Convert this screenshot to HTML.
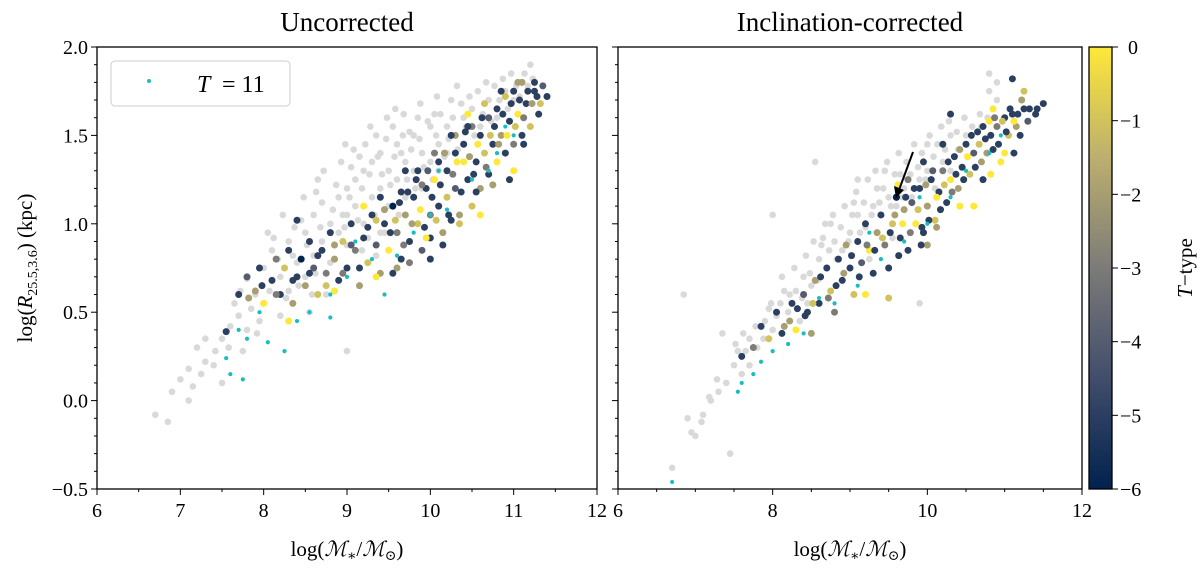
<!DOCTYPE html>
<html><head><meta charset="utf-8"><style>
body{margin:0;background:#fff;}
svg text{font-family:"Liberation Serif","DejaVu Serif",serif;fill:#000;}
</style></head><body>
<svg id="chart" width="1200" height="568" viewBox="0 0 1200 568" xmlns="http://www.w3.org/2000/svg">
<defs>
<linearGradient id="cmap" x1="0" y1="1" x2="0" y2="0">
<stop offset="0" stop-color="#00224e"/><stop offset="0.25" stop-color="#414d6b"/><stop offset="0.5" stop-color="#7c7b78"/><stop offset="0.75" stop-color="#bcaf6f"/><stop offset="1" stop-color="#fee838"/>
</linearGradient>
</defs>
<g id="plots"></g>
<text x="347" y="31" font-size="27" text-anchor="middle">Uncorrected</text>
<text x="850" y="31" font-size="27" text-anchor="middle">Inclination-corrected</text>
<text x="347" y="556" font-size="21" text-anchor="middle">log(<tspan font-style="italic">ℳ</tspan><tspan font-size="14" dy="4">∗</tspan><tspan dy="-4">/</tspan><tspan font-style="italic">ℳ</tspan><tspan font-size="14" dy="4">⊙</tspan><tspan dy="-4">)</tspan></text>
<text x="850" y="556" font-size="21" text-anchor="middle">log(<tspan font-style="italic">ℳ</tspan><tspan font-size="14" dy="4">∗</tspan><tspan dy="-4">/</tspan><tspan font-style="italic">ℳ</tspan><tspan font-size="14" dy="4">⊙</tspan><tspan dy="-4">)</tspan></text>
<text transform="translate(32,268) rotate(-90)" font-size="21" text-anchor="middle">log(<tspan font-style="italic">R</tspan><tspan font-size="14" dy="5">25.5,3.6</tspan><tspan dy="-5">) (kpc)</tspan></text>
<text transform="translate(1192,268) rotate(-90)" font-size="21" text-anchor="middle"><tspan font-style="italic">T</tspan>−type</text>
<g>
<rect x="111" y="61" width="179" height="45" rx="4" fill="#fff" stroke="#ccc" stroke-width="1"/>
<circle cx="149" cy="81" r="2" fill="#17bec0"/>
<text x="197" y="92" font-size="24" font-style="italic">T</text>
<text x="222" y="92" font-size="24">= 11</text>
</g>
<g>
<line x1="913" y1="152" x2="899" y2="190" stroke="#000" stroke-width="2"/>
<polygon points="896,198 894,186 904,190" fill="#000"/>
</g>
</svg>
<script>
const leftGray=[[6.7,-0.08],[6.85,-0.12],[6.9,0.05],[7.0,0.12],[7.1,0.18],[7.2,0.3],[7.3,0.22],[7.4,0.2],[7.5,0.35],[7.6,0.42],[7.7,0.48],[7.8,0.4],[7.5,0.1],[7.65,0.55],[7.8,0.69],[7.9,0.6],[8.0,0.55],[8.0,0.75],[8.1,0.85],[8.2,0.7],[8.3,0.9],[8.3,0.62],[8.4,0.78],[8.5,0.95],[8.5,0.7],[8.6,1.05],[8.6,0.82],[8.7,0.9],[8.7,1.12],[8.8,1.0],[8.8,0.78],[8.9,1.15],[8.9,0.95],[9.0,1.2],[9.0,1.05],[9.0,0.88],[9.1,1.25],[9.1,1.1],[9.2,1.3],[9.2,1.0],[9.3,1.35],[9.3,1.15],[9.4,1.2],[9.4,1.4],[9.5,1.3],[9.5,1.1],[9.6,1.45],[9.6,1.25],[9.7,1.35],[9.7,1.15],[9.8,1.5],[9.8,1.3],[9.9,1.4],[9.9,1.2],[10.0,1.55],[10.0,1.35],[10.1,1.45],[10.1,1.3],[10.2,1.55],[10.2,1.4],[10.3,1.5],[10.4,1.6],[10.4,1.45],[10.5,1.65],[10.6,1.55],[10.7,1.7],[10.8,1.6],[10.9,1.75],[11.0,1.7],[11.2,1.9],[11.1,1.8],[9.0,0.28],[8.55,0.5],[9.4,0.95],[8.2,0.48],[7.3,0.35],[7.95,0.45],[8.45,1.02],[9.15,1.38],[9.55,1.55],[10.25,1.7],[9.85,1.6],[9.25,0.92],[8.75,0.6],[7.75,0.28],[7.1,0.0],[8.05,0.95],[8.65,1.25],[9.35,1.5],[9.65,1.4],[9.05,1.32],[8.95,1.05],[9.75,1.52],[10.05,1.62],[8.35,0.82]];
const leftGray2=[[8.12,0.92],[8.23,1.05],[8.37,0.98],[8.48,1.15],[8.52,0.88],[8.63,1.18],[8.68,0.98],[8.72,1.3],[8.83,1.08],[8.87,1.22],[8.93,1.35],[8.97,0.98],[9.03,1.15],[9.08,1.42],[9.13,1.02],[9.18,1.2],[9.22,1.45],[9.27,1.28],[9.33,1.05],[9.37,1.38],[9.42,1.28],[9.47,1.48],[9.52,1.22],[9.57,1.38],[9.62,1.05],[9.67,1.5],[9.72,1.25],[9.77,1.42],[9.82,1.2],[9.87,1.48],[9.92,1.32],[9.97,1.58],[10.03,1.25],[10.07,1.5],[10.12,1.62],[10.17,1.38],[10.22,1.48],[10.27,1.6],[10.33,1.42],[10.37,1.68],[10.43,1.55],[10.47,1.72],[10.53,1.5],[10.57,1.75],[10.63,1.62],[10.67,1.8],[10.73,1.58],[10.77,1.78],[10.83,1.7],[10.87,1.82],[10.93,1.65],[10.97,1.85],[11.03,1.78],[11.07,1.72],[11.13,1.85],[11.17,1.78],[11.23,1.82],[8.07,0.62],[8.17,0.8],[8.27,0.58],[8.42,0.65],[8.58,0.6],[8.62,0.72],[7.85,0.52],[7.92,0.38],[7.72,0.62],[7.58,0.3],[7.42,0.28],[7.25,0.15],[7.15,0.08],[9.48,1.6],[9.58,1.65],[9.28,1.55],[8.98,1.45],[9.68,1.62],[9.88,1.68],[10.08,1.72],[10.32,1.78],[9.18,0.85],[9.45,0.95],[9.35,0.82]];
const leftColor=[[7.55,0.39,-5],[7.7,0.6,-5],[7.8,0.7,-4],[7.9,0.62,-2],[7.95,0.75,-5],[8.0,0.55,0],[8.1,0.68,-5],[8.15,0.8,-3],[8.2,0.6,-5],[8.25,0.75,-1],[8.3,0.85,-5],[8.35,0.55,-2],[8.4,0.7,-5],[8.45,0.8,-6],[8.5,0.65,-2],[8.55,0.9,-5],[8.6,0.75,-4],[8.65,0.6,-1],[8.7,0.85,-5],[8.75,0.72,-3],[8.8,0.95,-5],[8.85,0.8,-2],[8.9,0.68,-5],[8.95,0.9,-1],[9.0,0.75,-5],[9.05,1.0,-5],[9.1,0.85,-3],[9.15,0.65,-2],[9.2,0.92,-5],[9.25,0.78,-1],[9.3,1.05,-5],[9.35,0.88,-4],[9.4,0.72,-2],[9.45,1.0,-5],[9.5,0.85,0],[9.55,1.1,-6],[9.6,0.95,-3],[9.65,0.8,-5],[9.7,1.05,-2],[9.75,0.9,-5],[9.8,1.15,-5],[9.85,1.0,-1],[9.9,0.85,-4],[9.95,1.2,-5],[10.0,1.05,-3],[10.0,0.92,-5],[10.05,1.25,0],[10.1,1.1,-5],[10.15,0.95,-2],[10.2,1.3,-5],[10.2,1.15,-1],[10.25,1.02,-5],[10.3,1.4,-5],[10.3,1.2,-4],[10.35,1.05,-2],[10.4,1.35,0],[10.4,1.45,-5],[10.45,1.25,-5],[10.5,1.1,-1],[10.5,1.55,-3],[10.55,1.35,-5],[10.6,1.2,-2],[10.6,1.5,-5],[10.65,1.4,-1],[10.7,1.28,-5],[10.7,1.6,-4],[10.75,1.45,-5],[10.8,1.35,0],[10.8,1.65,-5],[10.85,1.5,-2],[10.9,1.4,-5],[10.9,1.72,-1],[10.95,1.58,-5],[11.0,1.45,-3],[11.0,1.75,-5],[11.05,1.62,0],[11.1,1.5,-5],[11.1,1.8,-2],[11.15,1.68,-5],[11.2,1.55,-1],[11.25,1.75,-5],[11.3,1.62,-5],[11.35,1.78,-4],[11.4,1.72,-5],[10.45,1.62,0],[10.3,1.5,-2],[10.1,1.35,-5],[9.9,1.22,-3],[9.7,1.3,-5],[9.4,1.15,-5],[9.2,1.1,0],[8.85,0.62,0],[9.6,0.75,-2],[10.0,0.8,-5],[10.6,1.05,0],[11.0,1.3,0],[8.3,0.45,0],[8.4,1.02,-5]];
const leftColor2=[[9.52,0.95,-5],[9.58,1.02,-1],[9.63,1.12,-5],[9.68,0.88,-3],[9.73,1.18,-5],[9.78,1.0,-2],[9.83,1.25,-5],[9.88,1.08,0],[9.93,0.98,-5],[9.97,1.3,-4],[10.02,1.15,-5],[10.07,1.02,-1],[10.12,1.22,-5],[10.17,1.4,-2],[10.22,1.05,-5],[10.27,1.28,-3],[10.32,1.35,0],[10.37,1.18,-5],[10.42,1.52,-5],[10.47,1.38,-2],[10.52,1.28,-5],[10.57,1.45,0],[10.62,1.6,-5],[10.67,1.32,-3],[10.72,1.5,-1],[10.77,1.55,-5],[10.82,1.45,-2],[10.87,1.62,-5],[10.92,1.5,0],[10.97,1.68,-5],[11.02,1.55,-1],[11.07,1.7,-5],[11.12,1.6,-3],[11.17,1.75,-5],[11.22,1.68,-2],[11.28,1.72,-5],[11.32,1.68,-1],[11.12,1.45,-5],[10.95,1.25,-5],[10.75,1.22,-2],[10.55,1.18,-5],[10.35,1.0,-1],[10.15,0.88,-5],[9.95,0.92,0],[9.75,0.78,-3],[9.55,0.72,-5],[9.35,0.7,0],[9.15,0.75,-5],[8.95,0.72,-3],[8.75,0.65,-1],[8.55,0.72,-5],[8.35,0.68,-5],[8.15,0.6,-3],[7.98,0.65,-5],[7.82,0.58,-2],[9.05,0.88,-4],[9.25,0.98,-5],[9.45,1.08,-2],[9.65,1.18,-5],[9.85,1.3,-5],[10.05,1.4,-3],[10.25,1.5,-5],[10.45,1.55,-5],[10.65,1.68,-1],[10.85,1.75,-5],[11.05,1.8,-2],[11.25,1.8,-5],[8.65,0.82,-5],[8.85,0.88,-2],[9.35,1.02,-1]];
const leftCyan=[[7.55,0.24],[7.6,0.15],[7.7,0.4],[7.75,0.12],[7.8,0.35],[7.95,0.5],[8.05,0.33],[8.25,0.28],[8.4,0.45],[8.55,0.5],[8.8,0.47],[8.8,0.6],[9.0,0.7],[9.3,0.8],[9.6,0.82],[9.8,0.95],[10.0,1.05],[10.2,1.08],[10.5,1.25],[10.7,1.3],[10.8,1.4],[10.1,1.3],[9.45,0.6],[10.9,1.55],[11.0,1.5],[9.1,0.9]];
const rightGray=[[6.7,-0.38],[6.85,0.6],[7.0,-0.2],[7.1,-0.08],[7.2,0.0],[7.3,0.05],[7.4,0.1],[7.5,0.2],[7.45,-0.3],[7.55,0.28],[7.6,0.15],[7.7,0.35],[7.8,0.3],[7.9,0.45],[8.0,0.4],[8.1,0.55],[8.2,0.5],[8.3,0.62],[8.4,0.7],[8.5,0.65],[8.55,1.35],[8.6,0.8],[8.7,0.75],[8.8,0.9],[8.9,0.85],[9.0,0.95],[9.1,1.05],[9.2,0.98],[9.3,1.1],[9.4,1.05],[9.5,1.15],[9.6,1.1],[9.7,1.2],[9.8,1.15],[9.9,1.25],[10.0,1.3],[10.1,1.2],[10.2,1.35],[10.3,1.3],[10.4,1.42],[10.5,1.5],[10.7,1.55],[10.8,1.75],[10.9,1.7],[9.1,1.25],[9.9,0.55],[8.0,1.05],[7.7,0.2],[8.35,0.45],[9.25,0.8],[9.55,0.92],[10.0,1.45],[10.3,1.5],[8.15,0.62],[8.75,1.0],[9.45,1.3],[7.35,0.38],[6.9,-0.1],[8.65,0.92],[9.35,1.2],[9.05,1.12],[8.45,0.55],[7.95,0.52],[9.65,1.28]];
const rightGray2=[[8.05,0.48],[8.12,0.7],[8.22,0.6],[8.28,0.75],[8.38,0.58],[8.43,0.82],[8.48,0.72],[8.53,0.9],[8.58,0.68],[8.63,0.88],[8.68,1.0],[8.73,0.85],[8.78,1.05],[8.83,0.8],[8.88,0.98],[8.93,1.1],[8.98,0.9],[9.03,1.05],[9.08,1.18],[9.13,0.95],[9.18,1.12],[9.23,1.25],[9.28,1.05],[9.33,1.3],[9.38,1.12],[9.43,1.2],[9.48,1.35],[9.53,1.1],[9.58,1.28],[9.63,1.4],[9.68,1.15],[9.73,1.35],[9.78,1.28],[9.83,1.45],[9.88,1.32],[9.93,1.4],[9.98,1.25],[10.03,1.5],[10.08,1.38],[10.13,1.45],[10.18,1.55],[10.23,1.42],[10.28,1.58],[10.38,1.52],[10.48,1.6],[10.58,1.55],[10.68,1.62],[10.78,1.6],[7.65,0.28],[7.78,0.42],[7.88,0.35],[7.98,0.55],[7.28,0.12],[7.18,0.02],[7.08,-0.12],[6.95,-0.18],[7.52,0.32],[7.62,0.38],[10.8,1.85],[10.9,1.8]];
const rightColor=[[7.6,0.25,-5],[7.75,0.3,-3],[7.85,0.42,-5],[7.95,0.35,-1],[8.05,0.5,-5],[8.15,0.42,-2],[8.25,0.55,-5],[8.3,0.4,0],[8.4,0.6,-4],[8.45,0.5,-5],[8.55,0.68,-2],[8.6,0.55,-5],[8.7,0.75,-5],[8.75,0.62,-1],[8.8,0.5,-3],[8.85,0.8,-5],[8.9,0.68,-5],[8.95,0.88,-2],[9.0,0.75,-5],[9.05,0.6,-1],[9.1,0.9,-5],[9.15,0.78,-4],[9.2,1.0,-5],[9.25,0.85,0],[9.3,0.72,-5],[9.35,0.95,-2],[9.4,1.05,-5],[9.45,0.88,-3],[9.5,0.75,-5],[9.55,1.0,-1],[9.6,1.15,-6],[9.65,0.92,-5],[9.7,1.08,-2],[9.75,0.85,-5],[9.8,1.12,-4],[9.85,1.0,0],[9.9,1.2,-5],[9.95,0.95,-5],[10.0,1.1,-2],[10.05,1.25,-5],[10.1,1.02,-1],[10.15,1.18,-5],[10.2,1.3,-3],[10.25,1.12,-5],[10.3,1.25,0],[10.35,1.38,-5],[10.4,1.2,-2],[10.45,1.32,-5],[10.5,1.45,-5],[10.55,1.28,-1],[10.6,1.4,-4],[10.65,1.52,-5],[10.7,1.35,-2],[10.75,1.48,-5],[10.8,1.58,0],[10.85,1.42,-5],[10.9,1.55,-3],[10.95,1.35,0],[11.0,1.6,-5],[11.05,1.5,-1],[11.1,1.62,-5],[11.15,1.55,-2],[11.2,1.5,-5],[11.25,1.65,-5],[11.3,1.58,-4],[11.4,1.62,-5],[11.5,1.68,-5],[11.1,1.82,-5],[11.25,1.75,-1],[10.85,1.65,0],[10.3,1.62,-5],[9.95,1.35,-5],[9.2,0.6,0],[9.5,0.58,-1],[8.5,0.38,-2],[10.6,1.1,0],[10.0,0.88,-2],[11.0,1.4,0],[9.75,1.25,-3],[10.2,1.45,-5],[9.6,1.15,-6]];
const rightColor2=[[9.52,0.95,-5],[9.58,1.05,-2],[9.63,0.82,-5],[9.68,1.0,0],[9.72,1.15,-5],[9.78,0.95,-3],[9.83,1.2,-5],[9.88,1.08,-1],[9.93,0.98,-5],[9.98,1.22,-2],[10.02,1.02,-5],[10.07,1.3,-4],[10.12,1.15,0],[10.17,1.08,-5],[10.22,1.22,-1],[10.27,1.35,-5],[10.32,1.18,-3],[10.37,1.28,-5],[10.42,1.42,-2],[10.47,1.25,-5],[10.52,1.38,0],[10.57,1.5,-5],[10.62,1.32,-5],[10.67,1.45,-1],[10.72,1.55,-5],[10.77,1.4,-2],[10.82,1.5,-5],[10.87,1.6,-3],[10.92,1.45,-5],[10.97,1.58,-1],[11.02,1.52,-5],[11.07,1.65,-5],[11.12,1.58,0],[11.17,1.62,-5],[11.22,1.7,-2],[11.32,1.65,-5],[11.42,1.65,-5],[9.02,0.82,-5],[8.92,0.72,-2],[8.82,0.65,-5],[8.72,0.58,-3],[8.62,0.7,-5],[8.52,0.55,-1],[8.42,0.48,-5],[8.32,0.52,-5],[8.22,0.45,-2],[8.12,0.38,-5],[9.12,0.7,-5],[9.22,0.88,-3],[9.32,0.85,-5],[9.42,0.92,-1],[9.62,1.22,0],[10.12,0.98,-2],[10.42,1.1,0],[10.82,1.28,0],[11.12,1.4,-5],[10.72,1.25,-5],[9.92,0.88,-5]];
const rightCyan=[[6.7,-0.46],[7.55,0.05],[7.6,0.1],[7.75,0.15],[7.85,0.22],[8.0,0.28],[8.2,0.32],[8.4,0.38],[8.8,0.55],[9.1,0.65],[9.4,0.8],[9.7,0.9],[10.0,1.0],[10.3,1.15],[10.5,1.3],[10.8,1.4],[9.9,1.15],[10.95,1.5],[8.6,0.58],[9.25,0.95]];
const leftXTicks=[6,7,8,9,10,11,12];
const rightXTicks=[6,8,10,12];
const yTicks=[-0.5,0.0,0.5,1.0,1.5,2.0];
const cbTicks=[0,-1,-2,-3,-4,-5,-6];

const NS='http://www.w3.org/2000/svg';
const root=document.getElementById('plots');
function mk(tag,attrs,parent){const e=document.createElementNS(NS,tag);for(const k in attrs)e.setAttribute(k,attrs[k]);(parent||root).appendChild(e);return e;}
const TOP=47,BOT=489;
function yS(v){return BOT-(v+0.5)/2.5*(BOT-TOP);}
const stops=[[0,[0,34,78]],[0.25,[65,77,107]],[0.5,[124,123,120]],[0.75,[188,175,111]],[1,[254,232,56]]];
function cmap(t){const f=(t+6)/6;for(let i=0;i<stops.length-1;i++){const a=stops[i],b=stops[i+1];if(f<=b[0]){const u=(f-a[0])/(b[0]-a[0]);return 'rgb('+a[1].map((c,j)=>Math.round(c+(b[1][j]-c)*u)).join(',')+')';}}return 'rgb(254,232,56)';}

function panel(name,L,R,grayD,colD,cyanD,ticks,showY){
  const xS=v=>L+(v-6)/6*(R-L);
  const g=mk('g',{});
  
  
  grayD.forEach(p=>{const c=mk('circle',{cx:xS(p[0]),cy:yS(p[1]),r:3.3,fill:'#d9d9d9'},g);
    
    });
  colD.forEach(p=>{const c=mk('circle',{cx:xS(p[0]),cy:yS(p[1]),r:3.5,fill:cmap(p[2])},g);
    
    });
  cyanD.forEach(p=>{const c=mk('circle',{cx:xS(p[0]),cy:yS(p[1]),r:2.1,fill:'#17bec0'},g);
    
    });
  mk('rect',{x:L,y:TOP,width:R-L,height:BOT-TOP,fill:'none',stroke:'#000','stroke-width':1.3},g);
  for(let v=6;v<=12;v+=0.5){const x=xS(v);const major=ticks.includes(v);
    mk('line',{x1:x,y1:BOT,x2:x,y2:BOT+(major?6:3),stroke:'#000'},g);}
  ticks.forEach(v=>{const t=mk('text',{x:xS(v),y:BOT+28,'font-size':20,'text-anchor':'middle'},g);t.textContent=v;
    
    });
  for(let v=-0.5;v<=2.0001;v+=0.1){const y=yS(v);const major=Math.abs(Math.round(v*2)-v*2)<1e-6;
    mk('line',{x1:L,y1:y,x2:L-(major?6:3),y2:y,stroke:'#000'},g);}
  if(showY){yTicks.forEach(v=>{const t=mk('text',{x:L-9,y:yS(v)+7,'font-size':20,'text-anchor':'end'},g);t.textContent=(v<0?'−':'')+Math.abs(v).toFixed(1);
    
    });}
}
panel('uncorrected',97,597,leftGray.concat(leftGray2),leftColor.concat(leftColor2),leftCyan,leftXTicks,true);
panel('corrected',618,1082,rightGray.concat(rightGray2),rightColor.concat(rightColor2),rightCyan,rightXTicks,false);

const cb=mk('g',{});


mk('rect',{x:1089,y:TOP,width:23,height:BOT-TOP,fill:'url(#cmap)',stroke:'#000','stroke-width':1.3},cb);
cbTicks.forEach(v=>{const y=TOP+(-v)/6*(BOT-TOP);mk('line',{x1:1112,y1:y,x2:1118,y2:y,stroke:'#000'},cb);
  const t=mk('text',{x:v===0?1128:1120,y:y+7,'font-size':20},cb);t.textContent=v===0?'0':'−'+Math.abs(v);
  
  });
</script>
</body></html>
